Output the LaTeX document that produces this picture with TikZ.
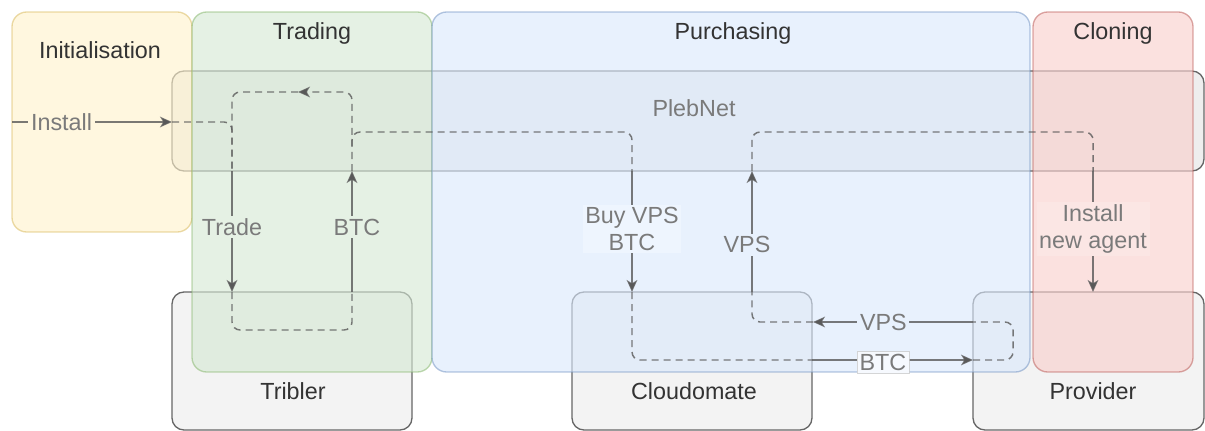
\documentclass[tikz,border=0pt]{standalone}
\usepackage{fontspec}
\setmainfont{Liberation Sans}
\usetikzlibrary{arrows.meta}
\definecolor{edgec}{HTML}{595959}
\definecolor{boxc}{HTML}{666666}
\definecolor{lblc}{HTML}{7A7A7A}
\definecolor{titlec}{HTML}{333333}
\definecolor{actorfill}{HTML}{F3F3F3}
\definecolor{plebfill}{HTML}{EEEEEE}
\definecolor{initfill}{HTML}{FFF2CC}
\definecolor{initdraw}{HTML}{D6B656}
\definecolor{tradefill}{HTML}{D5E8D4}
\definecolor{tradedraw}{HTML}{82B366}
\definecolor{purchfill}{HTML}{DAE8FC}
\definecolor{purchdraw}{HTML}{6C8EBF}
\definecolor{clonfill}{HTML}{F8CECC}
\definecolor{clondraw}{HTML}{B85450}
\begin{document}
\begin{tikzpicture}[x=0.75pt,y=-0.75pt,
  every node/.style={font=\fontsize{17.5}{20}\selectfont},
  actor/.style={draw=boxc,fill=actorfill,rounded corners=9pt,line width=1pt,inner sep=0pt,anchor=center},
  phase/.style={rounded corners=11pt,line width=1pt,inner sep=0pt,fill opacity=0.62,draw opacity=0.5,anchor=center},
  title/.style={text=titlec,inner sep=1pt},
  lbl/.style={text=lblc,inner sep=2pt,align=center},
  solidarrow/.style={draw=edgec,draw opacity=0.8,line width=1.1pt,-{Stealth[length=9pt,width=8pt,inset=2.5pt]}},
  dashline/.style={draw=edgec,draw opacity=0.8,line width=1.1pt,dash pattern=on 5.25pt off 3.75pt,rounded corners=6pt},
  dasharrow/.style={dashline,-{Stealth[length=9pt,width=8pt,inset=2.5pt]}},
]
\useasboundingbox (0,0) rectangle (1205,431);

% actors (bottom)
\node[actor,minimum width=180pt,minimum height=103.5pt] (tribler) at (292,361) {};
\node[actor,minimum width=180pt,minimum height=103.5pt] (cloudomate) at (692,361) {};
\node[actor,minimum width=173.25pt,minimum height=103.5pt] (provider) at (1088.5,361) {};

% PlebNet
\node[draw=boxc,fill=plebfill,rounded corners=9pt,line width=1pt,inner sep=0pt,
      minimum width=774pt,minimum height=75pt] (pleb) at (688,121) {};

% phases (semi-transparent overlays)
\node[phase,fill=initfill,draw=initdraw,minimum width=135pt,minimum height=165pt] (init) at (102,122) {};
\node[phase,fill=tradefill,draw=tradedraw,minimum width=180pt,minimum height=270pt] (trading) at (312,192) {};
\node[phase,fill=purchfill,draw=purchdraw,minimum width=448.5pt,minimum height=270pt] (purch) at (731,192) {};
\node[phase,fill=clonfill,draw=clondraw,minimum width=120pt,minimum height=270pt] (clon) at (1113,192) {};

\node[text=lblc] (plebl) at (694,108) {PlebNet};

% named coordinates
\coordinate (pe) at (172,122);
\coordinate (tr1) at (232,171);
\coordinate (tr2) at (232,292);
\coordinate (bt1) at (352,292);
\coordinate (bt2) at (352,171);
\coordinate (br) at (352,146);
\coordinate (lp) at (298,92);
\coordinate (by1) at (632,171);
\coordinate (by2) at (632,292);
\coordinate (cb1) at (812,360);
\coordinate (cb2) at (973,360);
\coordinate (pv1) at (973,322);
\coordinate (pv2) at (813,322);
\coordinate (vp1) at (752,292);
\coordinate (vp2) at (752,171);
\coordinate (ia1) at (1093,171);
\coordinate (ia2) at (1093,292);
\coordinate (init0) at (12,122);

% connectors: dashed parts inside boxes
\draw[dashline] (pe) -| (tr1);
\draw[dasharrow] (bt2) |- (lp);
\draw[dashline] (lp) -| (tr1);
\draw[dashline] (tr2) -- (232,330) -- (352,330) -- (bt1);
\draw[dashline] (br) -- (352,132) -- (632,132) -- (by1);
\draw[dashline] (by2) |- (cb1);
\draw[dashline] (cb2) -- (1013,360) -- (1013,322) -- (pv1);
\draw[dashline] (pv2) -| (vp1);
\draw[dashline] (vp2) -- (752,132) -- (1093,132) -- (ia1);

% connectors: solid parts with labels
\draw[solidarrow] (init0) -- (pe) node[lbl,pos=0.31,fill=initfill!62!white] (linstall) {Install};
\draw[solidarrow] (tr1) -- (tr2) node[lbl,pos=0.463,fill=tradefill!62!white] (ltrade) {Trade};
\draw[solidarrow] (bt1) -- (bt2) node[lbl,pos=0.537,xshift=3.75pt,fill=tradefill!62!white] (lbtc1) {BTC};
\draw[solidarrow] (by1) -- (by2) node[lbl,pos=0.48,fill=purchfill!45!white] (lbuy) {Buy VPS\\BTC};
\draw[solidarrow] (cb1) -- (cb2) node[lbl,pos=0.44,yshift=-2pt,fill=purchfill!25!white,draw=gray!40,line width=0.5pt] (lbtc2) {BTC};
\draw[solidarrow] (pv1) -- (pv2) node[lbl,pos=0.56,fill=purchfill!62!white] (lvps1) {VPS};
\draw[solidarrow] (vp1) -- (vp2) node[lbl,pos=0.39,xshift=-3.75pt,fill=purchfill!62!white] (lvps2) {VPS};
\draw[solidarrow] (ia1) -- (ia2) node[lbl,pos=0.48,fill=clonfill!52!white] (linst2) {Install\\new agent};

% titles
\node[title] (tinit) at (100,50) {Initialisation};
\node[title] (ttrade) at (312,33) {Trading};
\node[title] (tpurch) at (733,33) {Purchasing};
\node[title] (tclon) at (1113,33) {Cloning};
\node[title] (ttrib) at (293,391) {Tribler};
\node[title] (tcloud) at (694,391) {Cloudomate};
\node[title] (tprov) at (1093,391) {Provider};
\end{tikzpicture}
\end{document}
